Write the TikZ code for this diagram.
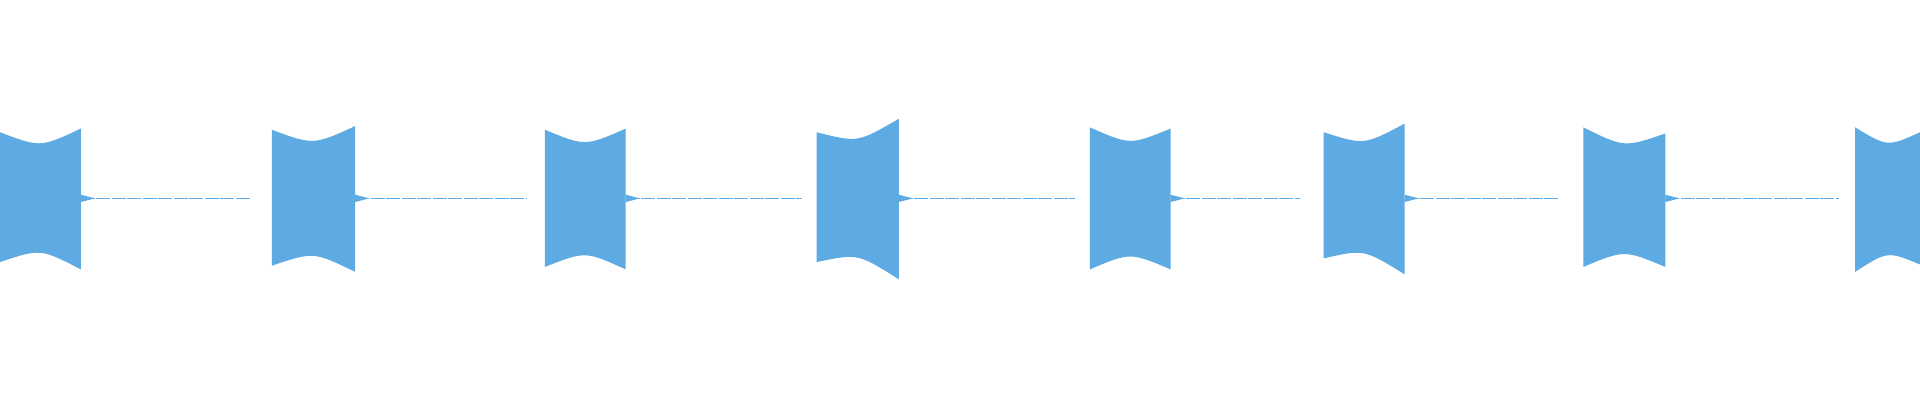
\documentclass[tikz,border=0pt]{standalone}
\definecolor{wave}{RGB}{93, 171, 226}

\begin{document}
\begin{tikzpicture}[x=1.2245pt, y=-1.2245pt]
			\useasboundingbox (0, 0) rectangle (1568, 327);
			% bursts: start/end/top left/top right/bottom left/bottom right
			\foreach \a/\b/\tl/\tr/\bl/\br in {0/66/108/105/214/220, 222/290/106/103/217/222, 445/511/106/105/218/220, 667/734/108/97/214/228, 890/956/104/105/220/220, 1081/1147/108/101/211/224, 1293/1360/104/109/218/218, 1515/1568/104/108/222/216}{
				\fill [wave] (\a, \tl) .. controls ({(\a+\b)/2}, {(\tl+\tr)/2+14}) .. (\b, \tr) -- (\b, \br) .. controls ({(\a+\b)/2}, {(\bl+\br)/2-14}) .. (\a, \bl) -- cycle;
			}
			% quiet parts between bursts
			\foreach \a/\b in {66/205, 290/430, 511/655, 734/878, 956/1062, 1147/1272, 1360/1502}{
				\draw [wave, line width=0.35pt, dash pattern=on 14pt off 1.5pt] (\a, 162) -- (\b, 162);
				\fill [wave] (\a, 159) -- (\a+10, 161.6) -- (\a+10, 162.4) -- (\a, 165) -- cycle;
			}
		\end{tikzpicture}
\end{document}
